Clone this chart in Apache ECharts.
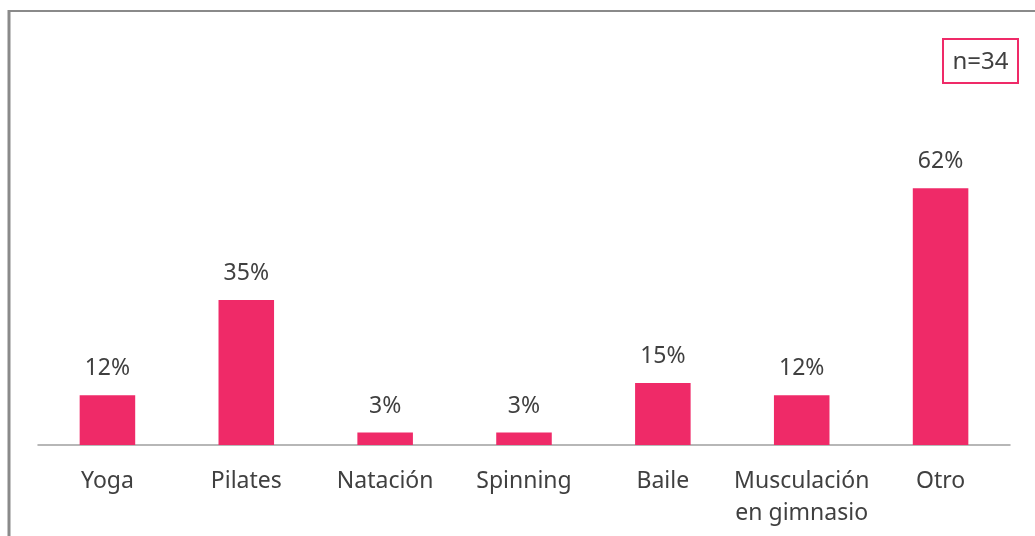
<!DOCTYPE html>
<html>
<head>
<meta charset="utf-8">
<script src="https://cdn.jsdelivr.net/npm/echarts@6/dist/echarts.min.js"></script>
<style>
  html, body { margin: 0; padding: 0; background: #fff; }
  #chart { width: 1035px; height: 536px; }
</style>
</head>
<body>
<div id="chart"></div>
<script>
// Actividad física realizada (porcentaje de respuestas)
const categories = ['Yoga', 'Pilates', 'Natación', 'Spinning', 'Baile', 'Musculación\nen gimnasio', 'Otro'];
const percentages = [12, 35, 3, 3, 15, 12, 62];
const sampleLabel = 'n=34';

const FONT = '"Noto Sans", "Open Sans", sans-serif';
const BAR = '#EF2A68';
const TEXT = '#404040';

const chart = echarts.init(document.getElementById('chart'), null, { renderer: 'canvas' });

chart.setOption({
  animation: false,
  backgroundColor: '#ffffff',
  grid: { left: 38, right: 25, top: 31, bottom: 91, containLabel: false },
  xAxis: {
    type: 'category',
    data: categories,
    axisLine: { show: true, lineStyle: { color: '#a0a0a0', width: 1.5 } },
    axisTick: { show: false },
    axisLabel: {
      color: TEXT,
      fontFamily: FONT,
      fontSize: 23,
      margin: 20,
      lineHeight: 32,
      interval: 0
    }
  },
  yAxis: {
    type: 'value',
    min: 0,
    max: 100,
    show: false,
    splitLine: { show: false }
  },
  series: [{
    type: 'bar',
    data: percentages,
    barWidth: '40%',
    itemStyle: { color: BAR },
    label: {
      show: true,
      position: 'top',
      distance: 15,
      color: TEXT,
      fontFamily: FONT,
      fontSize: 23,
      formatter: p => p.value + '%'
    }
  }],
  graphic: [
    // marco exterior (lados superior e izquierdo)
    { type: 'line', shape: { x1: 9, y1: 11, x2: 1035, y2: 11 }, style: { stroke: '#8a8a8a', lineWidth: 2 } },
    { type: 'line', shape: { x1: 9, y1: 10, x2: 9, y2: 536 }, style: { stroke: '#8a8a8a', lineWidth: 3 } },
    // recuadro con el tamaño de muestra
    {
      type: 'rect',
      shape: { x: 943, y: 39, width: 75, height: 44 },
      style: { fill: '#fff', stroke: BAR, lineWidth: 2 }
    },
    {
      type: 'text',
      x: 980.5, y: 62,
      style: {
        text: sampleLabel,
        fill: TEXT,
        font: '24px ' + FONT,
        align: 'center',
        verticalAlign: 'middle'
      }
    }
  ]
});
</script>
</body>
</html>
